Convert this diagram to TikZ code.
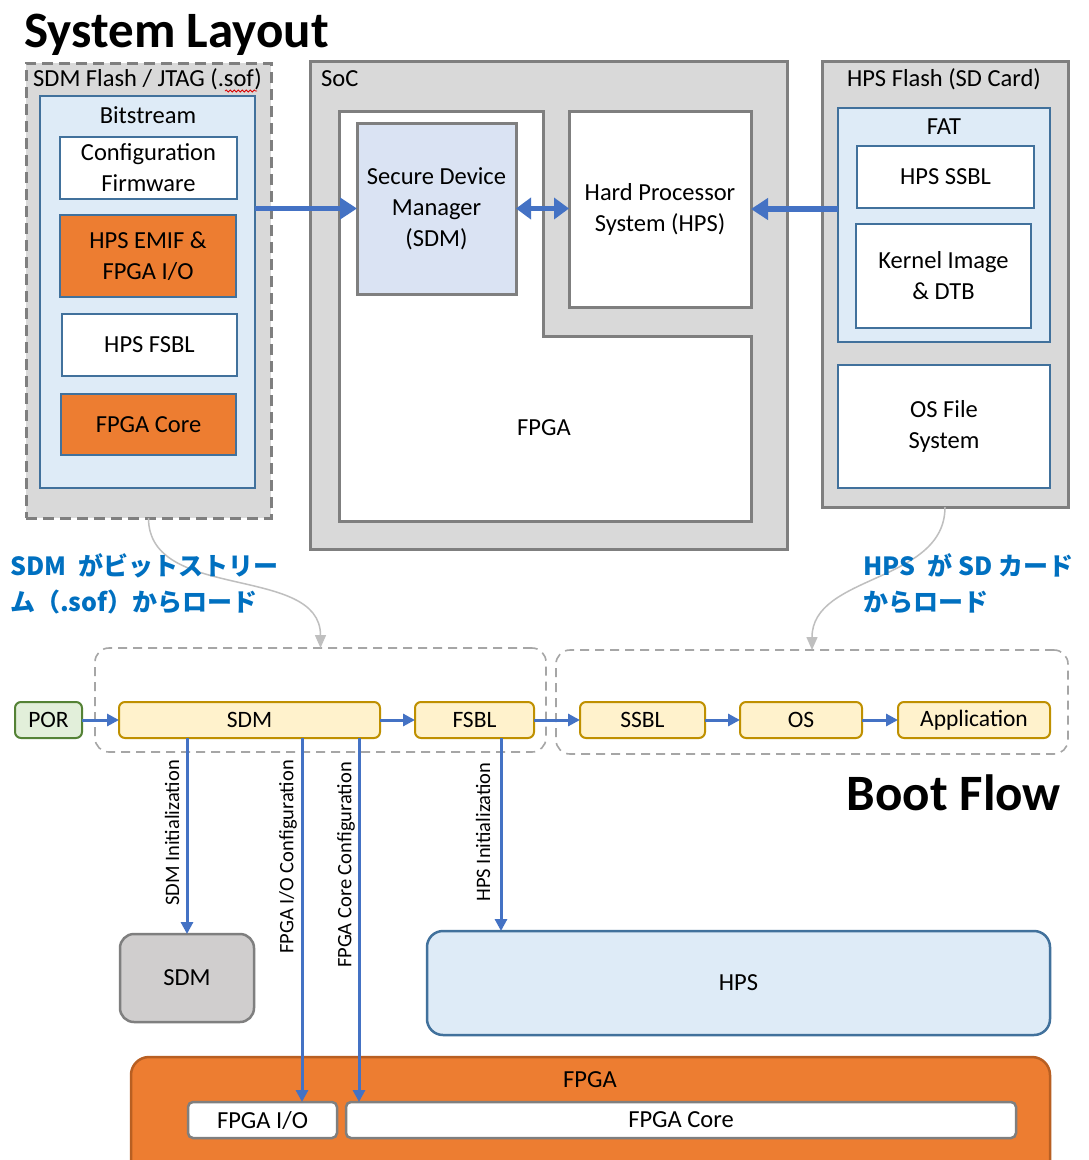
\documentclass[tikz,border=0pt]{standalone}
\usepackage{fontspec}
\setmainfont{Carlito}
\newfontfamily\titlefont{Carlito}
\newfontfamily\jpfont{Noto Sans CJK JP}
\usetikzlibrary{arrows.meta,decorations.pathmorphing,calc}
\definecolor{boxgray}{HTML}{D9D9D9}
\definecolor{edgegray}{HTML}{7F7F7F}
\definecolor{lblue}{HTML}{DEEBF7}
\definecolor{sdmblue}{HTML}{DAE3F3}
\definecolor{eblue}{HTML}{41719C}
\definecolor{orng}{HTML}{ED7D31}
\definecolor{orngedge}{HTML}{B85F22}
\definecolor{arrblue}{HTML}{4472C4}
\definecolor{jpblue}{HTML}{0070C0}
\definecolor{flowfill}{HTML}{FFF2CC}
\definecolor{flowedge}{HTML}{BF9000}
\definecolor{porfill}{HTML}{E2EFDA}
\definecolor{poredge}{HTML}{548235}
\definecolor{curvegray}{HTML}{BFBFBF}
\definecolor{grpgray}{HTML}{A6A6A6}
\definecolor{sdmgray}{HTML}{D0CECE}
\newcommand\pbox[7]{\node[#2, minimum width={(#5)-(#3)}, minimum height={(#6)-(#4)}] (#1) at ({((#3)+(#5))/2},{((#4)+(#6))/2}) {#7};}
\tikzset{
  txt/.style={font=\fontsize{24.5}{31}\selectfont, align=center, text=black},
  base/.style={txt, inner sep=0pt, outer sep=0pt},
  graybox/.style={base, draw=edgegray, line width=3pt, fill=boxgray},
  dashbox/.style={graybox, dash pattern=on 11pt off 6pt},
  bluebox/.style={base, draw=eblue, line width=2pt, fill=lblue},
  whitebbox/.style={base, draw=eblue, line width=2pt, fill=white},
  orangebox/.style={base, draw=eblue, line width=2pt, fill=orng},
  chip/.style={base, draw=edgegray, line width=3pt},
  lbl/.style={txt, inner sep=0pt},
  grp/.style={base, draw=grpgray, line width=1.6pt, dash pattern=on 9pt off 6pt, rounded corners=14pt},
  flowbox/.style={base, draw=flowedge, fill=flowfill, line width=2pt, rounded corners=6pt, font=\fontsize{23.5}{28}\selectfont},
  porbox/.style={base, draw=poredge, fill=porfill, line width=2pt, rounded corners=6pt, font=\fontsize{23.5}{28}\selectfont},
  bigarrow/.style={draw=arrblue, line width=5.5pt, -{Triangle[length=17pt,width=21pt]}},
  bigdarrow/.style={draw=arrblue, line width=5.5pt, {Triangle[length=15pt,width=21pt]}-{Triangle[length=15pt,width=21pt]}},
  flowarrow/.style={draw=arrblue, line width=3pt, -{Triangle[length=12pt,width=12pt]}},
  curvearrow/.style={draw=curvegray, line width=1.5pt, -{Triangle[length=13pt,width=11pt]}},
  vlab/.style={rotate=90, inner sep=0pt, font=\fontsize{20.5}{24}\selectfont},
  title/.style={inner sep=0pt, font=\titlefont\bfseries\fontsize{51}{56}\selectfont},
  jp/.style={inner sep=0pt, align=left, text=jpblue, font=\jpfont\bfseries\fontsize{25}{36}\selectfont},
}
\begin{document}
\begin{tikzpicture}[x=1pt,y=-1pt]
\useasboundingbox (0,0) rectangle (1088,1160);
\clip (0,0) rectangle (1088,1160);
\fill[white] (0,0) rectangle (1088,1160);

% ---------- titles ----------
\node[title, anchor=base west] (t1) at (24,47) {System Layout};
\node[title, anchor=base east] (t2) at (1061,810) {Boot Flow};

% ---------- SDM flash ----------
\pbox{sdmflash}{dashbox}{26}{63}{271}{518}{}
\node[lbl, anchor=west] (sdmflashlbl) at (33,79) {SDM Flash / JTAG (.sof)};
\draw[red!85!black, line width=0.8pt, decorate, decoration={snake, amplitude=1pt, segment length=4pt}] (225,91) -- (257,91);
\pbox{bit}{bluebox}{40}{96}{255}{488}{}
\node[lbl] (bitlbl) at (148,115) {Bitstream};
\pbox{cfw}{whitebbox}{60}{137}{237}{199}{Configuration\\Firmware}
\pbox{emif}{orangebox}{60}{215}{236}{297}{HPS EMIF \&\\FPGA I/O}
\pbox{fsblimg}{whitebbox}{62}{314}{237}{376}{HPS FSBL}
\pbox{coreimg}{orangebox}{61}{394}{236}{455}{FPGA Core}

% ---------- SoC ----------
\pbox{soc}{graybox}{310}{61}{787}{549}{}
\node[lbl, anchor=west] (soclbl) at (321,79) {SoC};
\draw[draw=edgegray, line width=3pt, fill=white] (339,111) -- (543,111) -- (543,336) -- (751,336) -- (751,521) -- (339,521) -- cycle;
\node[lbl] (fpgalbl) at (544,428) {FPGA};
\pbox{sdmchip}{chip, fill=sdmblue}{357}{123}{516}{294}{Secure Device\\Manager\\(SDM)}
\pbox{hpschip}{chip, fill=white}{569}{111}{751}{307}{Hard Processor\\System (HPS)}

% ---------- HPS flash ----------
\pbox{hpsflash}{graybox}{822}{61}{1068}{507}{}
\node[lbl] (hpsflashlbl) at (944,79) {HPS Flash (SD Card)};
\pbox{fat}{bluebox}{838}{108}{1050}{342}{}
\node[lbl] (fatlbl) at (944,127) {FAT};
\pbox{ssblimg}{whitebbox}{857}{146}{1034}{208}{HPS SSBL}
\pbox{kernel}{whitebbox}{856}{224}{1031}{328}{Kernel Image\\\& DTB}
\pbox{osfs}{whitebbox}{838}{365}{1050}{488}{OS File\\System}

% ---------- layout arrows ----------
\draw[bigarrow] (bit.east |- sdmchip.west) -- (sdmchip.west);
\draw[bigdarrow] (sdmchip.east) -- (hpschip.west |- sdmchip.east);
\draw[bigarrow] (fat.west |- hpschip.east) -- (hpschip.east);

% ---------- boot flow ----------
\pbox{grp1}{grp}{95}{648}{546}{752}{}
\pbox{grp2}{grp}{556}{650}{1068}{754}{}

\draw[curvearrow] (sdmflash.south) to[out=-90,in=90] (grp1.north);
\draw[curvearrow] (hpsflash.south) to[out=-90,in=90] (grp2.north);

\node[jp, anchor=west] (jp1) at (10,584) {SDM\hspace{12pt}がビットストリー\\ム（.sof）からロード};
\node[jp, anchor=west] (jp2) at (863,584) {HPS\hspace{12pt}が SD カード\\からロード};

\pbox{por}{porbox}{15}{702}{82}{738}{POR}
\pbox{sdmf}{flowbox}{119}{702}{380}{738}{SDM}
\pbox{fsbl}{flowbox}{415}{702}{534}{738}{FSBL}
\pbox{ssbl}{flowbox}{580}{702}{705}{738}{SSBL}
\pbox{os}{flowbox}{740}{702}{862}{738}{OS}
\pbox{app}{flowbox}{898}{702}{1050}{738}{Application}

\draw[flowarrow] (por) -- (sdmf);
\draw[flowarrow] (sdmf) -- (fsbl);
\draw[flowarrow] (fsbl) -- (ssbl);
\draw[flowarrow] (ssbl) -- (os);
\draw[flowarrow] (os) -- (app);

% ---------- bottom blocks ----------
\pbox{sdmb}{base, draw=edgegray, fill=sdmgray, line width=2.5pt, rounded corners=14pt}{120}{934}{254}{1022}{SDM}
\pbox{hpsb}{base, draw=eblue, fill=lblue, line width=2.5pt, rounded corners=16pt}{427}{931}{1050}{1035}{HPS}
\pbox{fpgab}{base, draw=orngedge, fill=orng, line width=2.5pt, rounded corners=18pt}{131}{1057}{1050}{1190}{}
\node[lbl] (fpgablbl) at (590,1080) {FPGA};
\pbox{fpgaio}{base, draw=edgegray, fill=white, line width=2.5pt, rounded corners=5pt}{188}{1102}{337}{1138}{FPGA I/O}
\pbox{fpgacore}{base, draw=edgegray, fill=white, line width=2.5pt, rounded corners=5pt}{346}{1102}{1016}{1138}{FPGA Core}

\coordinate (ioin) at ([xshift=39.5pt]fpgaio.north);
\coordinate (corein) at ([xshift=13pt]fpgacore.north west);
\coordinate (hpsin) at ([xshift=74pt]hpsb.north west);

\draw[flowarrow] (sdmb.north |- sdmf.south) -- (sdmb.north);
\draw[flowarrow] (ioin |- sdmf.south) -- (ioin);
\draw[flowarrow] (corein |- sdmf.south) -- (corein);
\draw[flowarrow] (hpsin |- fsbl.south) -- (hpsin);

\node[vlab] (l1) at (172,833) {SDM Initialization};
\node[vlab] (l2) at (288,857) {FPGA I/O Configuration};
\node[vlab] (l3) at (346,865) {FPGA Core Configuration};
\node[vlab] (l4) at (483,832) {HPS Initialization};
\end{tikzpicture}
\end{document}
